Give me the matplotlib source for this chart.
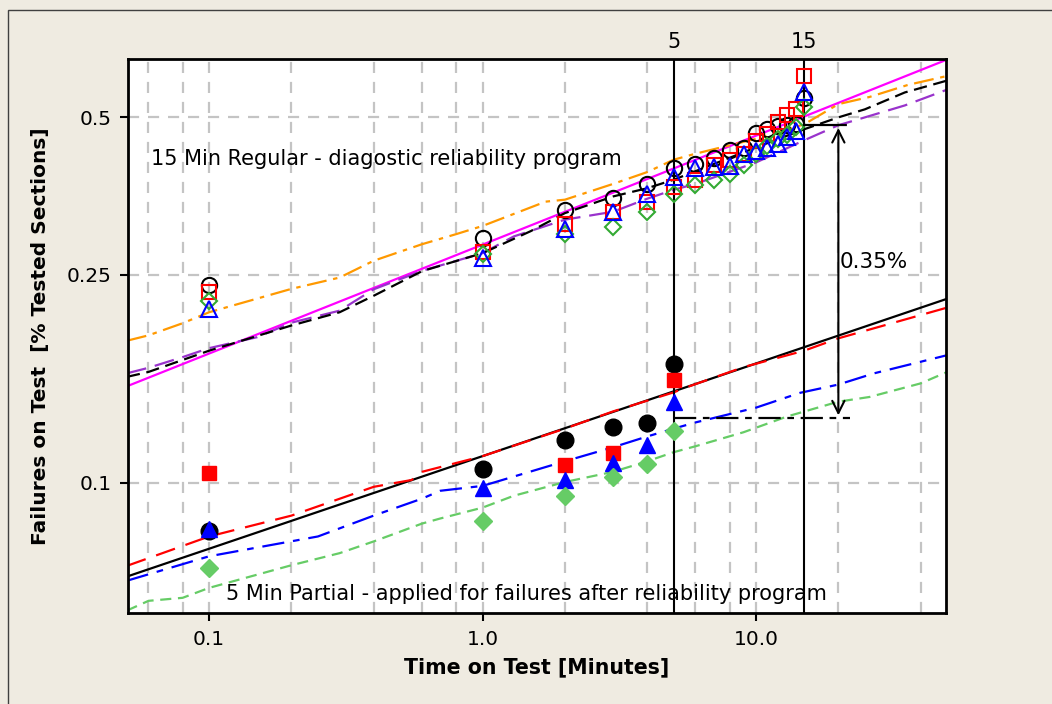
import numpy as np
import matplotlib
matplotlib.use("Agg")
import matplotlib.pyplot as plt
from matplotlib.patches import Rectangle
from matplotlib.ticker import FixedLocator, NullFormatter, FixedFormatter

plt.rcParams['font.family'] = ['DejaVu Sans']

# ---- measured failure fractions: 15 min regular test (open markers) ----
t_regular = [0.1, 1, 2, 3, 4, 5, 6, 7, 8, 9, 10, 11, 12, 13, 14, 15]
reg_circle = [0.239, 0.294, 0.332, 0.351, 0.373, 0.400, 0.408, 0.418, 0.433, 0.436,
              0.466, 0.476, 0.482, 0.484, 0.486, 0.545]
reg_square = [0.232, 0.277, 0.313, 0.330, 0.345, 0.368, 0.380, 0.405, 0.415, 0.425,
              0.450, 0.465, 0.490, 0.505, 0.518, 0.600]
reg_triangle = [0.215, 0.269, 0.306, 0.329, 0.357, 0.385, 0.400, 0.402, 0.404, 0.425,
                0.432, 0.436, 0.444, 0.458, 0.470, 0.560]
reg_diamond = [0.223, 0.274, 0.299, 0.309, 0.330, 0.357, 0.372, 0.380, 0.390, 0.405,
               0.425, 0.440, 0.455, 0.462, 0.480, 0.524]

# ---- measured failure fractions: 5 min partial test (filled markers) ----
t_partial = [0.1, 1, 2, 3, 4, 5]
par_circle = [0.0811, 0.1063, 0.1206, 0.128, 0.130, 0.1688]
par_square = [0.1045, np.nan, 0.1082, 0.114, np.nan, 0.1574]
par_triangle = [0.0815, 0.0978, 0.1013, 0.109, 0.118, 0.143]
par_diamond = [0.0687, 0.0844, 0.0945, 0.1026, 0.1086, 0.1255]

# ---- fitted / estimated curves, regular test ----
fit_reg_t = [0.05, 50]
fit_reg_y = [0.153, 0.645]
orange_t = [0.05, 0.06, 0.08, 0.1, 0.2, 0.3, 0.4, 0.6, 0.8, 1, 1.7, 2, 3, 4, 5, 6, 10, 15, 20, 26, 36, 50]
orange_y = [0.187, 0.1915, 0.202, 0.212, 0.235, 0.247, 0.266, 0.286, 0.299, 0.31, 0.345, 0.348,
            0.373, 0.393, 0.415, 0.426, 0.455, 0.485, 0.53, 0.547, 0.577, 0.60]
purple_t = [0.05, 0.06, 0.08, 0.1, 0.15, 0.2, 0.3, 0.4, 0.6, 1, 1.3, 2, 3, 4, 5, 6, 10, 15, 20, 25, 35, 50]
purple_y = [0.162, 0.166, 0.174, 0.181, 0.190, 0.2025, 0.2135, 0.2346, 0.2544, 0.275, 0.296, 0.3187,
            0.33, 0.3495, 0.3635, 0.373, 0.41, 0.452, 0.483, 0.50, 0.527, 0.565]
km_reg_t = [0.05, 0.06, 0.1, 0.2, 0.3, 0.4, 0.6, 1, 1.5, 2, 3, 4, 5, 10, 15, 20, 25, 35, 50]
km_reg_y = [0.1595, 0.163, 0.179, 0.200, 0.212, 0.228, 0.254, 0.275, 0.303, 0.328, 0.353, 0.366,
            0.380, 0.438, 0.4745, 0.50, 0.518, 0.558, 0.588]

# ---- fitted / estimated curves, partial test ----
fit_par_t = [0.05, 50]
fit_par_y = [0.0662, 0.225]
red_t = [0.05, 0.1, 0.2, 0.4, 0.55, 0.6, 1, 2, 3, 5, 5.7, 9, 15, 20, 50]
red_y = [0.0694, 0.079, 0.0866, 0.0983, 0.1013, 0.105, 0.1125, 0.127, 0.137, 0.149, 0.153,
         0.1665, 0.179, 0.189, 0.2164]
blue_t = [0.05, 0.1, 0.25, 0.4, 0.6, 0.7, 1, 2, 3, 4, 5, 6, 10, 14.5, 20, 27, 50]
blue_y = [0.065, 0.0724, 0.079, 0.0866, 0.0933, 0.0966, 0.0987, 0.110, 0.117, 0.1227, 0.127,
          0.1305, 0.1393, 0.1487, 0.1542, 0.162, 0.1755]
green_t = [0.05, 0.06, 0.08, 0.1, 0.2, 0.3, 0.4, 0.6, 0.7, 1, 1.3, 2, 3, 4, 5, 6, 9, 13, 20, 26, 40, 50]
green_y = [0.057, 0.0595, 0.0603, 0.063, 0.0696, 0.0734, 0.0773, 0.0836, 0.0855, 0.0897, 0.0945,
           0.1004, 0.105, 0.110, 0.1145, 0.1175, 0.125, 0.134, 0.143, 0.146, 0.155, 0.163]

# reference times and the failure gap between the two programs
t_marks = [5, 15]
gap_x = 20
gap_top = 0.483
gap_bottom = 0.133
gap_label = "0.35%"

x_ticks = [0.1, 1.0, 10.0]
x_tick_labels = ["0.1", "1.0", "10.0"]
y_ticks = [0.1, 0.25, 0.5]
y_tick_labels = ["0.1", "0.25", "0.5"]
x_grid = [0.06, 0.08, 0.2, 0.4, 0.6, 0.8, 2, 4, 6, 8, 20, 40]

BG = "#efebe1"
fig = plt.figure(figsize=(10.52, 7.04), dpi=100, facecolor=BG)
ax = fig.add_axes([128 / 1052, 1 - 613 / 704, (946 - 128) / 1052, (613 - 59) / 704])
ax.set_xscale("log")
ax.set_yscale("log")
ax.set_xlim(0.0505, 49.5)
ax.set_ylim(0.0564, 0.6465)

# grid
grid_kw = dict(color="#c4c4c4", lw=1.6, ls=(0, (5, 4)), zorder=0)
for gx in x_grid + x_ticks:
    ax.axvline(gx, **grid_kw)
for gy in y_ticks:
    ax.axhline(gy, **grid_kw)

# curves – regular
ax.plot(fit_reg_t, fit_reg_y, color="#ff00ff", lw=1.6, zorder=2)
ax.plot(orange_t, orange_y, color="#ff9900", lw=1.6, ls=(0, (9, 3, 2, 3)), zorder=2)
ax.plot(purple_t, purple_y, color="#9933cc", lw=1.6, ls=(0, (9, 4)), zorder=2)
ax.plot(km_reg_t, km_reg_y, color="black", lw=1.6, ls=(0, (6, 3)), zorder=2)

# curves – partial
ax.plot(fit_par_t, fit_par_y, color="black", lw=1.6, zorder=2)
ax.plot(red_t, red_y, color="#ff0000", lw=1.6, ls=(0, (9, 5)), zorder=2)
ax.plot(blue_t, blue_y, color="#0000ff", lw=1.6, ls=(0, (10, 4, 3, 4)), zorder=2)
ax.plot(green_t, green_y, color="#66cc66", lw=1.6, ls=(0, (5, 3)), zorder=2)

# markers – regular (open)
ax.plot(t_regular, reg_circle, ls="none", marker="o", ms=11, mfc="none", mec="black", mew=1.5, zorder=3)
ax.plot(t_regular, reg_square, ls="none", marker="s", ms=10, mfc="none", mec="#ff0000", mew=1.5, zorder=3)
ax.plot(t_regular, reg_diamond, ls="none", marker="D", ms=8, mfc="none", mec="#33aa33", mew=1.5, zorder=3)
ax.plot(t_regular, reg_triangle, ls="none", marker="^", ms=11, mfc="none", mec="#0000ff", mew=1.5, zorder=3)

# markers – partial (filled)
ax.plot(t_partial, par_circle, ls="none", marker="o", ms=12, color="black", zorder=3)
ax.plot(t_partial, par_square, ls="none", marker="s", ms=10, color="#ff0000", zorder=3)
ax.plot(t_partial, par_triangle, ls="none", marker="^", ms=11, color="#0000ff", zorder=3)
ax.plot(t_partial, par_diamond, ls="none", marker="D", ms=9, color="#66cc66", zorder=3)

# reference times
for tm in t_marks:
    ax.axvline(tm, color="black", lw=1.5, zorder=2.5)
    ax.text(tm, 1.012, str(tm), transform=ax.get_xaxis_transform(), ha="center", va="bottom",
            fontsize=15)

# gap between programs
ax.plot([t_marks[1], gap_x], [gap_top, gap_top], color="black", lw=1.6, zorder=4)
ax.plot([gap_x, 22], [gap_top, gap_top], color="black", lw=1.6, ls=(0, (4, 3)), zorder=4)
ax.plot([t_marks[0], 22], [gap_bottom, gap_bottom], color="black", lw=1.6,
        ls=(0, (10, 3, 3, 3)), zorder=4)
ax.annotate("", xy=(gap_x, gap_top), xytext=(gap_x, gap_bottom),
            arrowprops=dict(arrowstyle="<->", color="black", lw=1.5, mutation_scale=22),
            zorder=5)
ax.text(gap_x * 1.01, 0.265, gap_label, fontsize=15.5, ha="left", va="center")

ax.text(0.0615, 0.417, "15 Min Regular - diagostic reliability program", fontsize=15,
        ha="left", va="center")
ax.text(0.115, 0.0612, "5 Min Partial - applied for failures after reliability program",
        fontsize=15, ha="left", va="center")

# axes styling
ax.xaxis.set_major_locator(FixedLocator(x_ticks))
ax.xaxis.set_major_formatter(FixedFormatter(x_tick_labels))
ax.xaxis.set_minor_locator(FixedLocator([]))
ax.xaxis.set_minor_formatter(NullFormatter())
ax.yaxis.set_major_locator(FixedLocator(y_ticks))
ax.yaxis.set_major_formatter(FixedFormatter(y_tick_labels))
ax.yaxis.set_minor_locator(FixedLocator([]))
ax.yaxis.set_minor_formatter(NullFormatter())
ax.tick_params(axis="both", which="major", labelsize=14.5, length=6, width=1.5, direction="out", pad=6)
for s in ax.spines.values():
    s.set_linewidth(2)

ax.set_xlabel("Time on Test [Minutes]", fontsize=14.8, fontweight="bold", labelpad=6)
ax.set_ylabel("Failures on Test  [% Tested Sections]", fontsize=14.5, fontweight="bold", labelpad=12)

# figure frame
fig.patches.append(Rectangle((8 / 1052, -0.2), 1.5, 1.2 - 10 / 704, transform=fig.transFigure,
                             fill=False, ec="#404040", lw=1.0))

fig.savefig("out.png", dpi=100, facecolor=BG)
